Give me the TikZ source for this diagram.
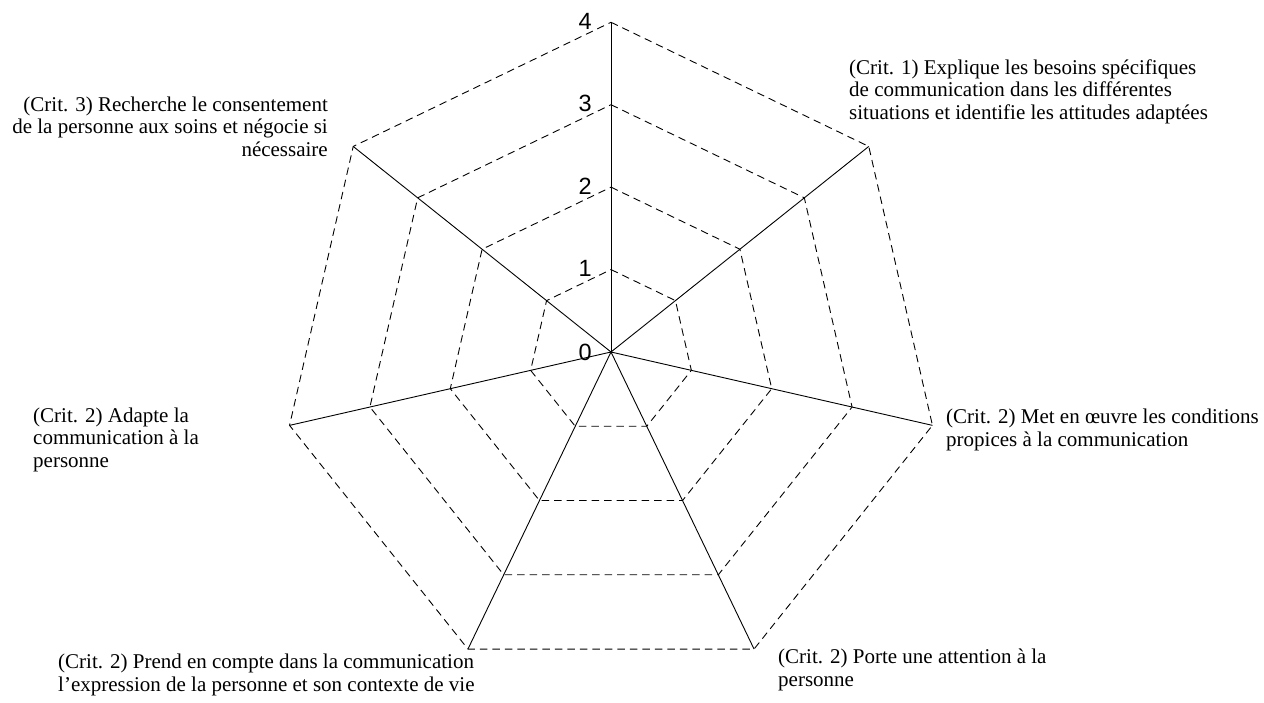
\documentclass[tikz,border=0pt]{standalone}
\usepackage{fontspec}
\setmainfont{Liberation Serif}
\newfontfamily\numfont{Liberation Sans}
\usetikzlibrary{calc}
\begin{document}
\begin{tikzpicture}[x=1pt,y=-1pt,
  axisline/.style={line width=0.9pt, black},
  gridline/.style={line width=0.9pt, black, dash pattern=on 7.5pt off 5pt},
  lbl/.style={inner sep=0pt, font=\fontsize{21}{22.5}\selectfont},
  num/.style={inner sep=0pt, font=\numfont\fontsize{23.5}{26}\selectfont, anchor=base east}]
\useasboundingbox (0,0) rectangle (1264,702);
\coordinate (C) at (611,352);
\foreach \i/\a in {0/90,1/38.5714,2/-12.8571,3/-64.2857,4/-115.7143,5/-167.1429,6/141.4286} {
  \foreach \l in {1,...,4} {
    \path (C) ++(\a:{\l*82.43pt}) coordinate (v\i-\l);
  }
}
% dashed level polygons
\foreach \l in {1,...,4} {
  \draw[gridline] (v0-\l) -- (v1-\l) -- (v2-\l) -- (v3-\l) -- (v4-\l) -- (v5-\l) -- (v6-\l) -- cycle;
}
% axes
\foreach \i in {0,...,6} {
  \draw[axisline] (C) -- (v\i-4);
}
% scale numbers
\node[num] (n0) at ($(C)+(-19,8)$) {0};
\foreach \l in {1,...,4} {
  \node[num] (n\l) at ($(v0-\l)+(-19,7)$) {\l};
}
% labels (anchor = baseline of the last line)
\node[lbl, anchor=base west, align=left] (crit1) at (849,119)
  {(Crit. 1) Explique les besoins spécifiques\\de communication dans les différentes\\situations et identifie les attitudes adaptées};
\node[lbl, anchor=base west, align=left] (met) at (946,446)
  {(Crit. 2) Met en œuvre les conditions\\propices à la communication};
\node[lbl, anchor=base west, align=left] (porte) at (778,686)
  {(Crit. 2) Porte une attention à la\\personne};
\node[lbl, anchor=base west, align=left] (prend) at (58,691)
  {(Crit. 2) Prend en compte dans la communication\\l’expression de la personne et son contexte de vie};
\node[lbl, anchor=base west, align=left] (adapte) at (33,467)
  {(Crit. 2) Adapte la\\communication à la\\personne};
\node[lbl, anchor=base east, align=right] (crit3) at (328,156)
  {(Crit. 3) Recherche le consentement\\de la personne aux soins et négocie si\\nécessaire};
\end{tikzpicture}
\end{document}
